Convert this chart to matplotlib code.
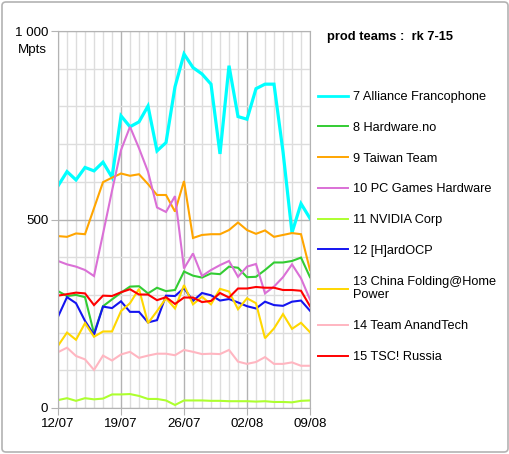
import matplotlib
matplotlib.use("Agg")
import matplotlib.pyplot as plt
from matplotlib.patches import FancyBboxPatch
from matplotlib.ticker import MultipleLocator, FixedLocator, FuncFormatter

plt.rcParams["font.family"] = ["Liberation Sans", "DejaVu Sans"]

# one point per day, 12/07 -> 09/08
days = list(range(29))
tick_days = [0, 7, 14, 21, 28]
tick_labels = ["12/07", "19/07", "26/07", "02/08", "09/08"]

alliance_francophone = [589, 627, 605, 638, 629, 652, 612, 775, 746, 759, 801, 682, 704, 852, 939,
                        903, 886, 859, 674, 908, 773, 766, 847, 859, 859, 680, 465, 542, 503]
hardware_no = [310, 297, 300, 294, 198, 270, 288, 306, 322, 323, 304, 319, 310, 313, 362,
               351, 346, 357, 355, 375, 372, 347, 348, 366, 386, 386, 390, 399, 347]
taiwan_team = [456, 454, 463, 461, 530, 599, 611, 622, 616, 620, 594, 565, 565, 521, 602,
               451, 459, 461, 461, 472, 492, 472, 462, 471, 454, 459, 464, 461, 366]
pc_games_hardware = [390, 381, 375, 366, 350, 462, 576, 684, 746, 689, 627, 532, 520, 562, 370,
                     410, 350, 366, 379, 390, 348, 375, 382, 304, 322, 347, 381, 344, 288]
nvidia_corp = [21, 26, 19, 26, 23, 25, 36, 36, 37, 32, 24, 24, 20, 8, 20,
               20, 20, 19, 19, 18, 18, 18, 17, 18, 16, 16, 15, 19, 20]
hardocp = [242, 294, 278, 231, 194, 269, 265, 283, 255, 255, 227, 233, 298, 297, 318,
           284, 305, 299, 285, 289, 280, 270, 264, 282, 273, 271, 282, 285, 258]
china_folding = [165, 200, 181, 225, 189, 203, 203, 257, 278, 316, 225, 257, 291, 264, 326,
                 275, 295, 275, 316, 309, 262, 291, 278, 185, 211, 249, 210, 226, 201]
team_anandtech = [148, 160, 138, 129, 101, 139, 126, 142, 149, 133, 139, 144, 144, 140, 154,
                  149, 143, 144, 143, 154, 123, 117, 122, 135, 117, 117, 121, 112, 112]
tsc_russia = [298, 302, 306, 304, 273, 298, 297, 307, 315, 301, 301, 286, 294, 276, 293,
              293, 281, 284, 305, 293, 317, 317, 321, 319, 319, 313, 313, 311, 270]

series = [
    ("7 Alliance Francophone", alliance_francophone, "#00ffff", 2.3),
    ("8 Hardware.no", hardware_no, "#33cc33", 1.5),
    ("9 Taiwan Team", taiwan_team, "#ffa500", 1.5),
    ("10 PC Games Hardware", pc_games_hardware, "#da70d6", 1.5),
    ("11 NVIDIA Corp", nvidia_corp, "#adff2f", 1.5),
    ("12 [H]ardOCP", hardocp, "#1414f0", 1.5),
    ("13 China Folding@Home\nPower", china_folding, "#ffd700", 1.5),
    ("14 Team AnandTech", team_anandtech, "#ffb6c1", 1.5),
    ("15 TSC! Russia", tsc_russia, "#ff0000", 1.5),
]

fig = plt.figure(figsize=(5.1, 4.54), dpi=100)
ax = fig.add_axes([58 / 510, 1 - 408 / 454, 252 / 510, 377 / 454])

handles = []
for name, vals, col, lw in series:
    ln, = ax.plot(days, vals, color=col, lw=lw, label=name, solid_joinstyle="miter")
    handles.append(ln)

ax.set_xlim(0, 28)
ax.set_ylim(0, 1000)
ax.xaxis.set_major_locator(FixedLocator(tick_days))
ax.set_xticklabels(tick_labels)
ax.xaxis.set_minor_locator(MultipleLocator(1))
ax.yaxis.set_major_locator(MultipleLocator(500))
ax.yaxis.set_minor_locator(MultipleLocator(100))
ax.yaxis.set_major_formatter(FuncFormatter(lambda v, p: f"{int(v):,}".replace(",", " ")))

ax.grid(which="major", color="#b3b3b3", lw=1)
ax.grid(which="minor", color="#dddddd", lw=1)
ax.set_axisbelow(True)
for s in ax.spines.values():
    s.set_color("#b3b3b3")
ax.tick_params(which="major", length=5, color="#b3b3b3", labelsize=9.6, pad=2)
ax.tick_params(which="minor", length=0)

ax.text(-0.044, 0.95, "Mpts", transform=ax.transAxes, ha="right", va="center", fontsize=9.6)

fig.text(327 / 510, 1 - 37 / 454, "prod teams :  rk 7-15", fontsize=9.3, fontweight="bold",
         ha="left", va="center")

leg = fig.legend(handles=handles, loc="upper left", bbox_to_anchor=(318 / 510, 1 - 91 / 454),
                 frameon=False, fontsize=9.2, handlelength=2.35, handletextpad=0.4,
                 labelspacing=1.47, borderpad=0, borderaxespad=0)
for i, ln in enumerate(leg.get_lines()):
    ln.set_linewidth(2.0 if i == 0 else 1.4)

fig.patches.append(FancyBboxPatch((2 / 510, 2 / 454), 506 / 510, 450 / 454,
                                  boxstyle="round,pad=0,rounding_size=0.008",
                                  transform=fig.transFigure, fill=False,
                                  edgecolor="#b3b3b3", lw=1.2))

fig.savefig("out.png", dpi=100)
